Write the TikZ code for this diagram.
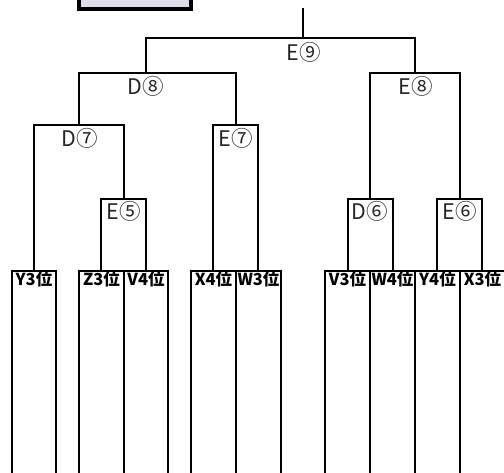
\documentclass[tikz,border=0pt]{standalone}
\usepackage{fontspec}
\newfontfamily\cjk{Noto Sans CJK JP}
\definecolor{boxfill}{HTML}{E0DCEA}
\begin{document}
\begin{tikzpicture}[x=1pt,y=-1pt,
  line/.style={line width=2pt, line join=miter},
  leaf/.style={draw, line width=2pt, anchor=north, minimum width=45pt, minimum height=220pt, inner sep=0pt},
  leaftext/.style={font=\cjk\bfseries\fontsize{16.5}{16.5}\selectfont, anchor=north, inner sep=0pt, yshift=-1.2pt},
  lab/.style={font=\cjk\fontsize{21.5}{21.5}\selectfont, inner sep=0pt, text=black!85},
  topbox/.style={draw, fill=boxfill, line width=3.6pt, minimum width=112pt, minimum height=40pt, inner sep=0pt}]
\useasboundingbox (0,0) rectangle (504,472);
% header box (cut off at top)
\node[topbox] (hdr) at (135,-11) {};
% leaves
\node[leaf, minimum width=44pt, label={[leaftext]north:Y3位}] (y3) at (34,270) {};
\node[leaf, label={[leaftext]north:Z3位}] (z3) at (101.5,270) {};
\node[leaf, minimum width=44pt, label={[leaftext]north:V4位}] (v4) at (146,270) {};
\node[leaf, label={[leaftext]north:X4位}] (x4) at (213.5,270) {};
\node[leaf, label={[leaftext]north:W3位}] (w3) at (258.5,270) {};
\node[leaf, label={[leaftext]north:V3位}] (v3) at (347.5,270) {};
\node[leaf, label={[leaftext]north:W4位}] (w4) at (392.5,270) {};
\node[leaf, label={[leaftext]north:Y4位}] (y4) at (437.5,270) {};
\node[leaf, label={[leaftext]north:X3位}] (x3) at (482.5,270) {};
% bracket junctions
\coordinate (e5t) at (124,199);
\coordinate (d6t) at (370,199);
\coordinate (e6t) at (460,199);
\coordinate (d7t) at (79,125);
\coordinate (e7t) at (236,125);
\coordinate (d8t) at (146,73);
\coordinate (e8t) at (415,73);
\coordinate (e9t) at (303,38);
\coordinate (root) at (303,8);
% labels
\node[lab] (le9) at (304,52) {E⑨};
\node[lab] (ld8) at (146,86) {D⑧};
\node[lab] (le8) at (416,86) {E⑧};
\node[lab] (ld7) at (80,138) {D⑦};
\node[lab] (le7) at (236,138) {E⑦};
\node[lab] (le5) at (124,211) {E⑤};
\node[lab] (ld6) at (370,211) {D⑥};
\node[lab] (le6) at (460,211) {E⑥};
% connectors
\draw[line] ([xshift=-.5pt]z3.north) |- (e5t) -| (v4.north);
\draw[line] ([xshift=.5pt]v3.north) |- (d6t) -| ([xshift=.5pt]w4.north);
\draw[line] ([xshift=-.5pt]y4.north) |- (e6t) -| ([xshift=-.5pt]x3.north);
\draw[line] ([xshift=-.5pt]x4.north) |- (e7t) -| ([xshift=-.5pt]w3.north);
\draw[line] (y3.north) |- (d7t) -| (e5t);
\draw[line] (d7t) |- (d8t) -| (e7t);
\draw[line] (d6t) |- (e8t) -| (e6t);
\draw[line] (d8t) |- (e9t) -| (e8t);
\draw[line] (e9t) -- (root);
\end{tikzpicture}
\end{document}
